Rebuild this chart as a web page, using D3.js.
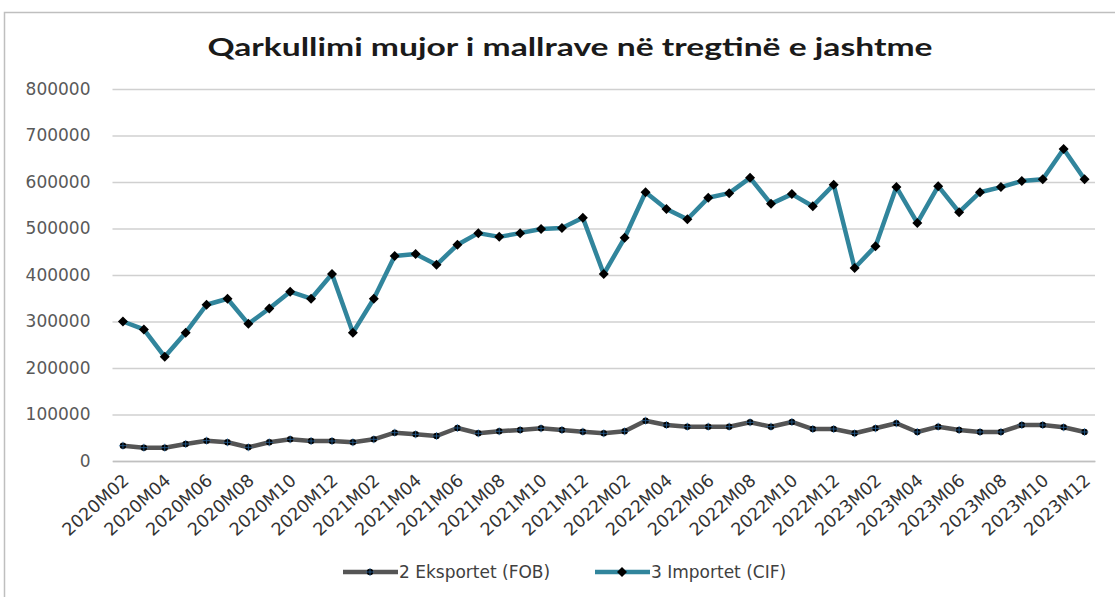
<!DOCTYPE html>
<html><head><meta charset="utf-8">
<script src="https://cdn.jsdelivr.net/npm/d3@7"></script>
<style>body{margin:0;background:#fff;} svg{display:block;}</style>
</head><body>
<svg id="c" width="1115" height="597"></svg>
<script>
const title = "Qarkullimi mujor i mallrave në tregtinë e jashtme";
const months = [];
for (let y = 2020; y <= 2023; y++) for (let m = 1; m <= 12; m++) {
  if (y === 2020 && m < 2) continue;
  months.push(y + "M" + String(m).padStart(2, "0"));
}
const exportsFOB = [32900,28600,28600,36600,43700,40200,29500,40200,46700,43000,43000,40200,
  46700,60900,57400,53800,71000,59600,63900,66700,70300,66700,63000,59600,
  63900,86700,77400,73800,73800,73800,83200,73800,83900,68800,68800,59600,
  70300,81100,62400,73800,66700,62400,62400,77400,77400,72500,62400];
const importsCIF = [300000,283000,224000,276000,336000,349000,295000,328000,364000,349000,402000,276000,
  349000,441000,445000,422000,465000,490000,482000,490000,499000,501000,523000,402000,
  480000,578000,542000,520000,566000,576000,609000,553000,574000,548000,594000,415000,
  462000,589000,512000,591000,535000,578000,589000,602000,606000,671000,606000];
const yTicks = [0,100000,200000,300000,400000,500000,600000,700000,800000];
const xTickLabels = months.filter((d, i) => i % 2 === 0);
const seriesNames = ["2 Eksportet (FOB)", "3 Importet (CIF)"];
const colors = ["#555555", "#31859C"];

const svg = d3.select("#c");
// chart border
svg.append("rect").attr("x", 4.5).attr("y", 12.5).attr("width", 1200).attr("height", 700)
  .attr("fill", "none").attr("stroke", "#bfbfbf").attr("stroke-width", 1.5);

svg.append("text").attr("x", 570).attr("y", 56).attr("text-anchor", "middle")
  .attr("font-family", "Lato").attr("font-weight", "bold").attr("font-size", 24)
  .attr("textLength", 725).attr("lengthAdjust", "spacingAndGlyphs")
  .attr("fill", "#1a1a1a").text(title);

const x = d3.scaleBand().domain(months).range([112.5, 1095]);
const cx = d => x(d) + x.bandwidth() / 2;
const y = d3.scaleLinear().domain([0, 800000]).range([461, 89]);

// gridlines
const yAxis = d3.axisLeft(y).tickValues(yTicks).tickSize(-(1095 - 112.5)).tickFormat(d3.format("d"));
const ga = svg.append("g").attr("transform", "translate(112.5,0)").call(yAxis);
ga.select(".domain").remove();
ga.selectAll(".tick line").attr("stroke", "#d0d0d0").attr("stroke-width", 1.5);
ga.selectAll(".tick text").attr("x", -22).attr("font-family", "DejaVu Sans").attr("font-size", 17).attr("fill", "#595959");

// x axis
const xAxis = d3.axisBottom(x).tickValues(xTickLabels).tickSize(0);
const gx = svg.append("g").attr("transform", "translate(0,461)").call(xAxis);
gx.select(".domain").attr("stroke", "#c0c0c0").attr("stroke-width", 1.5);
gx.selectAll(".tick text").attr("font-family", "DejaVu Sans").attr("font-size", 17.5).attr("fill", "#333")
  .attr("text-anchor", "end").attr("y", 0).attr("dy", 0)
  .attr("transform", "translate(7,21) rotate(-42)");

const line = d3.line().x((d, i) => cx(months[i])).y(d => y(d));
function drawExportMarker(g, px, py) {
  g.append("circle").attr("cx", px).attr("cy", py).attr("r", 3.2).attr("fill", "#000");
  g.append("path").attr("d", `M${px-4},${py}H${px+4}M${px},${py-4}V${py+4}`).attr("stroke", "#2e75b6").attr("stroke-width", 1).attr("opacity", 0.7);
}
function drawImportMarker(g, px, py) {
  g.append("path").attr("d", `M${px},${py-5}L${px+5},${py}L${px},${py+5}L${px-5},${py}Z`).attr("fill", "#000");
}
[exportsFOB, importsCIF].forEach((data, k) => {
  svg.append("path").datum(data).attr("d", line).attr("fill", "none")
    .attr("stroke", colors[k]).attr("stroke-width", 4.5).attr("stroke-linejoin", "round");
  const g = svg.append("g");
  data.forEach((v, i) => (k === 0 ? drawExportMarker : drawImportMarker)(g, cx(months[i]), y(v)));
});

// legend
const legX = [343, 595];
seriesNames.forEach((n, k) => {
  const g = svg.append("g");
  g.append("line").attr("x1", legX[k]).attr("x2", legX[k] + 55).attr("y1", 572).attr("y2", 572)
    .attr("stroke", colors[k]).attr("stroke-width", 4.5);
  (k === 0 ? drawExportMarker : drawImportMarker)(g, legX[k] + 27, 572);
  g.append("text").attr("x", legX[k] + 56).attr("y", 578).attr("font-family", "DejaVu Sans")
    .attr("font-size", 17).attr("fill", "#404040").text(n);
});
</script>
</body></html>
